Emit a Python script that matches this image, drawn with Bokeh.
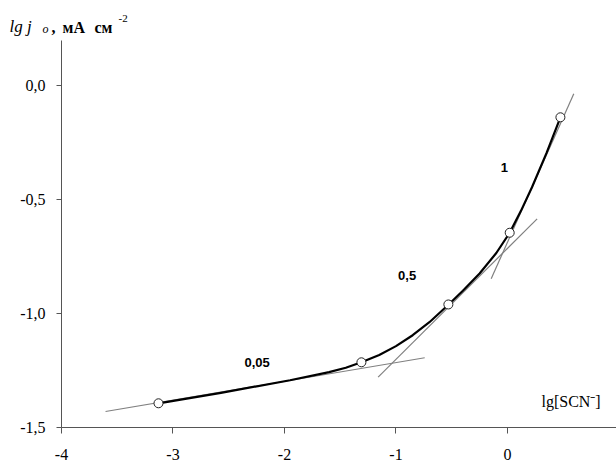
from bokeh.plotting import figure
from bokeh.models import Label, FixedTicker, CustomJSTickFormatter, Range1d
from bokeh.embed import file_html
from bokeh.resources import INLINE

# measured points
pts_x = [-3.13, -1.31, -0.53, 0.02, 0.475]
pts_y = [-1.395, -1.215, -0.961, -0.646, -0.139]

# smooth black curve
curve_x = [-3.13, -2.57, -1.95, -1.60, -1.45, -1.31, -1.15, -1.00, -0.85, -0.70, -0.53,
           -0.40, -0.25, -0.10, 0.02, 0.12, 0.22, 0.35, 0.475]
curve_y = [-1.395, -1.349, -1.294, -1.258, -1.239, -1.215, -1.183, -1.144, -1.096, -1.039, -0.962,
           -0.901, -0.825, -0.735, -0.646, -0.551, -0.446, -0.2965, -0.139]

# gray tangent lines (start, end)
tan1_x = [-3.605, -0.742]
tan1_y = [-1.431, -1.195]
tan2_x = [-1.16, 0.266]
tan2_y = [-1.28, -0.585]
tan3_x = [-0.146, 0.595]
tan3_y = [-0.848, -0.036]

slope_labels = ["0,05", "0,5", "1"]
slope_x = [-2.245, -0.90, -0.027]
slope_y = [-1.215, -0.834, -0.361]

x_ticks = [-4, -3, -2, -1, 0]
y_ticks = [-1.5, -1.0, -0.5, 0.0]

PXX = 111.5   # px per x unit
PXY = 227.7   # px per y unit
X0 = -4 - 61 / PXX
Y0 = -1.5 - (464 - 426.7) / PXY
p = figure(width=616, height=464, output_backend="svg", toolbar_location=None,
           x_range=Range1d(X0, 0.978), y_range=Range1d(Y0, 0.33),
           min_border_left=0, min_border_right=0, min_border_top=10, min_border_bottom=0)
p.outline_line_color = None
p.xgrid.visible = False
p.ygrid.visible = False
p.background_fill_color = "white"
p.yaxis.bounds = (-1.5, 0.2)
p.yaxis.fixed_location = -4
p.xaxis.bounds = (-4, 0.978)
p.xaxis.fixed_location = -1.5

for ax in (p.xaxis[0], p.yaxis[0]):
    ax.axis_line_color = "#555555"
    ax.major_tick_line_color = "#555555"
    ax.minor_tick_line_color = None
    ax.major_tick_in = 0
    ax.major_label_text_font = "Liberation Serif"
    ax.major_label_text_font_size = "16px"
    ax.major_label_text_color = "black"

p.xaxis.ticker = FixedTicker(ticks=x_ticks)
p.yaxis.ticker = FixedTicker(ticks=y_ticks)
p.xaxis.formatter = CustomJSTickFormatter(code="return tick.toFixed(0);")
p.yaxis.formatter = CustomJSTickFormatter(code="return tick.toFixed(1).replace('.', ',');")
p.xaxis.major_tick_out = 6
p.xaxis.major_label_standoff = 16
p.yaxis.major_tick_out = 5
p.yaxis.major_label_standoff = 11

g = "#808080"
p.line(tan1_x, tan1_y, line_color=g, line_width=1.2)
p.line(tan2_x, tan2_y, line_color=g, line_width=1.2)
p.line(tan3_x, tan3_y, line_color=g, line_width=1.2)
p.line(curve_x, curve_y, line_color="black", line_width=2.2, line_join="round")
p.scatter(pts_x, pts_y, size=9, fill_color="white", line_color="#222222", line_width=1)

for t, x, y in zip(slope_labels, slope_x, slope_y):
    p.add_layout(Label(x=x, y=y, text=t, text_font="Liberation Sans", text_font_style="bold",
                       text_font_size="13px", text_align="center", text_baseline="middle",
                       text_color="black"))

def px2x(px):
    return -4 + (px - 61) / PXX

def py2y(py):
    return -1.5 + (426.7 - py) / PXY

def lab(text, px, py, size, style="normal"):
    p.add_layout(Label(x=px2x(px), y=py2y(py), text=text, text_font="Liberation Serif",
                       text_font_style=style, text_font_size=size, text_baseline="middle",
                       text_color="black"))

# y title pieces
lab("lg j", 9, 26, "17px", "italic")
lab("o", 42, 29, "12px", "italic")
lab(",", 51, 27, "16px", "bold")
lab("мА", 62, 27, "16px", "bold")
lab("см", 94, 27, "16px", "bold")
lab("-2", 118, 18, "11px")
# x title
lab("lg[SCN\u207b]", 541, 401, "16px")

open("out.html", "w").write(file_html(p, INLINE))
